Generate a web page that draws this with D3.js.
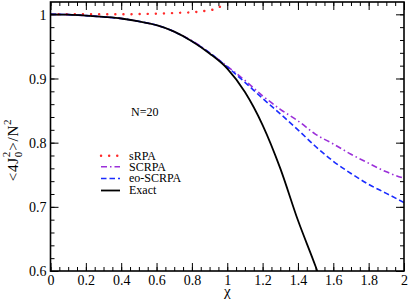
<!doctype html>
<html>
<head>
  <meta charset="UTF-8">
  <title>N=20</title>
  <script src="https://d3js.org/d3.v7.min.js"></script>
  <style>
    body { margin: 0; background: #fff; }
    text { font-family: "Liberation Serif", "Times New Roman", Times, serif; }
  </style>
</head>
<body>
  <script>
    // curves
    var exactX = [0, 0.1, 0.2, 0.3, 0.4, 0.5, 0.6, 0.7, 0.8, 0.9, 1.0, 1.1, 1.2, 1.3, 1.4, 1.5, 1.53];
    var exactY = [1.0, 0.9995, 0.998, 0.996, 0.9935, 0.989, 0.983, 0.973, 0.958, 0.939, 0.9155, 0.879, 0.8275, 0.760, 0.679, 0.607, 0.584];

    var srpaX = [0, 0.1, 0.2, 0.3, 0.4, 0.5, 0.6, 0.7, 0.75, 0.8, 0.85, 0.9, 0.93, 0.95, 0.97];
    var srpaY = [1.0, 1.0, 1.0, 1.0, 1.0, 1.0004, 1.001, 1.002, 1.0025, 1.003, 1.0045, 1.0065, 1.008, 1.0105, 1.0135];

    var scrpaX = [0, 0.1, 0.2, 0.3, 0.4, 0.5, 0.6, 0.7, 0.8, 0.9, 1.0, 1.1, 1.2, 1.3, 1.4, 1.5, 1.6, 1.7, 1.8, 1.9, 2.0];
    var scrpaY = [1.0, 0.9995, 0.998, 0.996, 0.9935, 0.989, 0.983, 0.973, 0.959, 0.940, 0.919, 0.897, 0.873, 0.852, 0.834, 0.813, 0.798, 0.782, 0.768, 0.7545, 0.7445];

    var eoX = [0, 0.1, 0.2, 0.3, 0.4, 0.5, 0.6, 0.7, 0.8, 0.9, 1.0, 1.1, 1.2, 1.3, 1.4, 1.5, 1.6, 1.7, 1.8, 1.9, 2.0];
    var eoY = [1.0, 0.9995, 0.998, 0.996, 0.9935, 0.989, 0.983, 0.973, 0.958, 0.940, 0.918, 0.894, 0.869, 0.845, 0.820, 0.794, 0.771, 0.752, 0.735, 0.721, 0.7066];

    var seriesNames = ["sRPA", "SCRPA", "eo-SCRPA", "Exact"];
    var seriesColors = ["#ff2a2a", "#9b30d9", "#1a2cff", "#000000"];

    var xTicks = [0, 0.2, 0.4, 0.6, 0.8, 1, 1.2, 1.4, 1.6, 1.8, 2];
    var xTickLabels = ["0", "0.2", "0.4", "0.6", "0.8", "1", "1.2", "1.4", "1.6", "1.8", "2"];
    var yTicks = [0.6, 0.7, 0.8, 0.9, 1];
    var yTickLabels = ["0.6", "0.7", "0.8", "0.9", "1"];

    var w = 409, h = 300;
    var pL = 50.5, pR = 404, pT = 2, pB = 271;
    var serif = '"Liberation Serif", "Times New Roman", Times, serif';

    var svg = d3.select("body").append("svg")
      .attr("width", w)
      .attr("height", h)
      .attr("font-family", serif);

    var x = d3.scaleLinear().domain([0, 2]).range([pL, pR]);
    var y = d3.scaleLinear().domain([0.6, 1.0192]).range([pB, pT]);

    svg.append("clipPath").attr("id", "clip")
      .append("rect")
      .attr("x", pL).attr("y", pT)
      .attr("width", pR - pL).attr("height", pB - pT);

    // minor ticks
    var xMinor = d3.range(0, 2.0001, 0.05);
    var yMinor = d3.range(0.6, 1.0191, 0.02);

    function tickAxes(axisFn, scale, ticks, size, labels, tx, ty) {
      var a = axisFn(scale).tickValues(ticks).tickSizeInner(-size).tickSizeOuter(0).tickPadding(5);
      if (labels) {
        a.tickFormat(function(d, i) { return labels[i]; });
      } else {
        a.tickFormat("");
      }
      var g = svg.append("g").attr("transform", "translate(" + tx + "," + ty + ")").call(a);
      g.attr("font-family", serif).attr("font-size", 14);
      g.select(".domain").remove();
      g.selectAll("line").attr("stroke", "#000").attr("stroke-width", 1);
      g.selectAll("text").attr("fill", "#000");
      return g;
    }

    tickAxes(d3.axisBottom, x, xMinor, 4, null, 0, pB);
    tickAxes(d3.axisTop, x, xMinor, 4, null, 0, pT);
    tickAxes(d3.axisLeft, y, yMinor, 4, null, pL, 0);
    tickAxes(d3.axisRight, y, yMinor, 4, null, pR, 0);

    tickAxes(d3.axisBottom, x, xTicks, 8, xTickLabels, 0, pB)
      .selectAll("text").attr("y", 4).attr("dy", "0.71em");
    tickAxes(d3.axisTop, x, xTicks, 8, null, 0, pT);
    tickAxes(d3.axisLeft, y, yTicks, 8, yTickLabels, pL, 0)
      .selectAll("text").attr("x", -4).attr("dy", "0.35em");
    tickAxes(d3.axisRight, y, yTicks, 8, null, pR, 0);

    // curves
    var curves = [
      { xs: srpaX, ys: srpaY, dash: "0.1,8", width: 2.4, cap: "round" },
      { xs: scrpaX, ys: scrpaY, dash: "6,3,1.5,3", width: 1.6, cap: "butt" },
      { xs: eoX, ys: eoY, dash: "5.5,3", width: 1.6, cap: "butt" },
      { xs: exactX, ys: exactY, dash: null, width: 1.8, cap: "butt" }
    ];

    var line = d3.line()
      .x(function(d) { return x(d[0]); })
      .y(function(d) { return y(d[1]); })
      .curve(d3.curveMonotoneX);

    var plot = svg.append("g").attr("clip-path", "url(#clip)");
    curves.forEach(function(c, i) {
      plot.append("path")
        .datum(d3.zip(c.xs, c.ys))
        .attr("d", line)
        .attr("fill", "none")
        .attr("stroke", seriesColors[i])
        .attr("stroke-width", c.width)
        .attr("stroke-linecap", c.cap)
        .attr("stroke-dasharray", c.dash);
    });

    // frame
    svg.append("rect")
      .attr("x", pL).attr("y", pT)
      .attr("width", pR - pL).attr("height", pB - pT)
      .attr("fill", "none")
      .attr("stroke", "#000")
      .attr("stroke-width", 1.6);

    // legend
    var legY = [155.7, 166.7, 178.5, 190.5];
    var legend = svg.append("g");
    curves.forEach(function(c, i) {
      legend.append("line")
        .attr("x1", 101).attr("x2", 120)
        .attr("y1", legY[i]).attr("y2", legY[i])
        .attr("stroke", seriesColors[i])
        .attr("stroke-width", c.width)
        .attr("stroke-linecap", c.cap)
        .attr("stroke-dasharray", c.dash);
      legend.append("text")
        .attr("x", 129).attr("y", legY[i] + 3.8)
        .attr("font-size", 12)
        .text(seriesNames[i]);
    });

    svg.append("text")
      .attr("x", 131).attr("y", 115.5)
      .attr("font-size", 12)
      .text("N=20");

    // axis titles
    svg.append("text")
      .attr("x", (pL + pR) / 2).attr("y", 296)
      .attr("text-anchor", "middle")
      .attr("font-size", 15)
      .text("\u03c7");

    var yl = svg.append("text")
      .attr("transform", "translate(18,150) rotate(-90)")
      .attr("text-anchor", "middle")
      .attr("letter-spacing", 0.8)
      .attr("font-size", 15);
    yl.append("tspan").text("<4J");
    yl.append("tspan").attr("font-size", 11).attr("dy", 4).text("0");
    yl.append("tspan").attr("font-size", 11).attr("dx", -6.3).attr("dy", -12).text("2");
    yl.append("tspan").attr("dy", 8).text(">/N");
    yl.append("tspan").attr("font-size", 11).attr("dy", -7).text("2");
  </script>
</body>
</html>
